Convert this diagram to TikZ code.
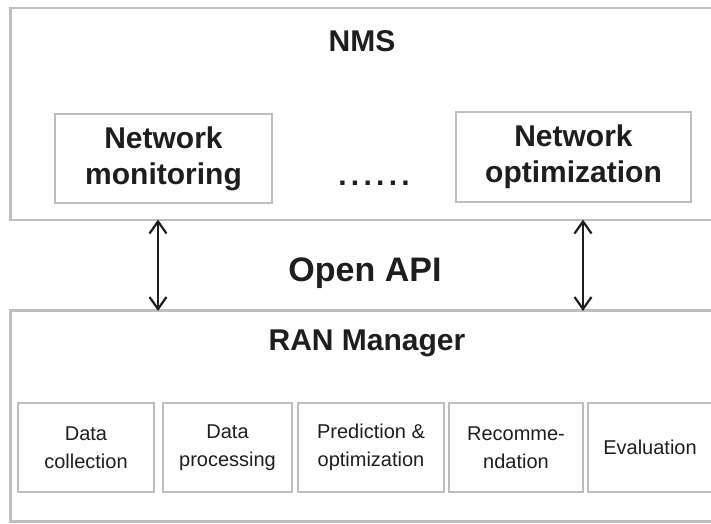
\documentclass[tikz,border=0pt]{standalone}
\usepackage{fontspec}
\setmainfont{Liberation Sans}
\usetikzlibrary{arrows.meta}
\definecolor{frame}{HTML}{BEBEBE}
\definecolor{ink}{HTML}{1E1E1E}
\tikzset{
  panel/.style={draw=frame, line width=2.2pt, fill=white, inner sep=0pt, rectangle},
  title/.style={text=ink, font=\fontsize{30}{36}\selectfont\bfseries, align=center, inner sep=0pt},
  funcbox/.style={panel, text=ink, font=\fontsize{20}{28}\selectfont, align=center},
  barb/.tip={Straight Barb[length=12pt,width=17pt,line width=2.2pt]},
  link/.style={draw=ink, line width=2.3pt, barb-barb}
}
\begin{document}
\begin{tikzpicture}[x=1pt,y=-1pt]
\useasboundingbox (0,0) rectangle (711,523);
\clip (0,0) rectangle (711,523);

% upper layer: network management system
\node[panel, minimum width=705pt, minimum height=212pt] (nms) at (363,114) {};
\node[title] (nmslabel) at (362,41) {NMS};
\node[panel, title, minimum width=217pt, minimum height=89pt] (mon) at (163.5,158.5)
  {Network\\monitoring};
\node[panel, title, minimum width=235pt, minimum height=90pt] (opt) at (573.5,157)
  {Network\\optimization};
\node[text=ink, font=\fontsize{30}{36}\selectfont\bfseries, inner sep=0pt, anchor=base] (dots) at (374,185)
  {.\kern4.3pt.\kern4.3pt.\kern4.3pt.\kern4.3pt.\kern4.3pt.};

% lower layer: RAN manager
\node[panel, minimum width=705pt, minimum height=211pt] (ran) at (363,416) {};
\node[title] (ranlabel) at (367,343) {RAN Manager};
\node[funcbox, minimum width=136pt, minimum height=89pt] (f1) at (86,447.5) {Data\\collection};
\node[funcbox, minimum width=129pt, minimum height=89pt] (f2) at (227.5,447.5) {Data\\processing};
\node[funcbox, minimum width=146pt, minimum height=89pt] (f3) at (371,447.5) {Prediction \&\\optimization};
\node[funcbox, minimum width=134pt, minimum height=89pt] (f4) at (516,447.5) {Recomme-\\ndation};
\node[funcbox, minimum width=124pt, minimum height=89pt] (f5) at (650,447.5) {Evaluation};

% open interface between the layers
\node[text=ink, font=\fontsize{34}{40}\selectfont\bfseries, inner sep=0pt] (api) at (365,273) {Open API};
\coordinate (lx) at (158,0);
\coordinate (rx) at (583,0);
\draw[link] ([yshift=1.5pt]nms.south -| lx) -- ([yshift=-1.5pt]ran.north -| lx);
\draw[link] ([yshift=1.5pt]nms.south -| rx) -- ([yshift=-1.5pt]ran.north -| rx);
\end{tikzpicture}
\end{document}
